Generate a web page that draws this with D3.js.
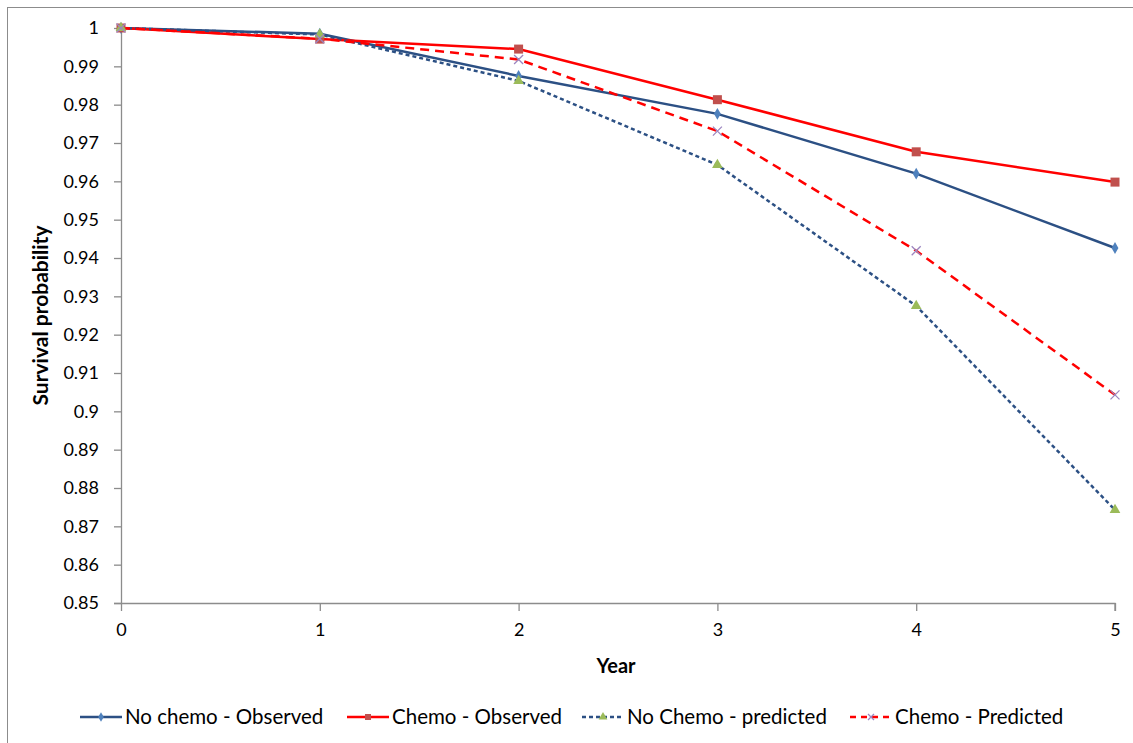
<!DOCTYPE html>
<html>
<head>
<meta charset="utf-8">
<script src="https://cdn.jsdelivr.net/npm/d3@7"></script>
<style>
  body { margin: 0; background: #fff; }
  text { font-family: Lato, "Open Sans", sans-serif; fill: #000; }
</style>
</head>
<body>
<div id="chart"></div>
<script>
'use strict';

// data
var years = [0, 1, 2, 3, 4, 5];
var noChemoObserved = [1.0, 0.9985, 0.9875, 0.9776, 0.9620, 0.9426];
var chemoObserved = [1.0, 0.9971, 0.9945, 0.9813, 0.9677, 0.9598];
var noChemoPredicted = [1.0, 0.9983, 0.9862, 0.9643, 0.9275, 0.8743];
var chemoPredicted = [1.0, 0.9972, 0.9918, 0.9731, 0.9419, 0.9043];
var yTicks = [0.85, 0.86, 0.87, 0.88, 0.89, 0.9, 0.91, 0.92, 0.93, 0.94, 0.95,
  0.96, 0.97, 0.98, 0.99, 1];
var seriesNames = ["No chemo - Observed", "Chemo - Observed",
  "No Chemo - predicted", "Chemo - Predicted"];

var W = 1133, H = 743;
var margin = {top: 28, right: 18, bottom: 140, left: 121};
var width = W - margin.left - margin.right,
  height = H - margin.top - margin.bottom;

var x = d3.scaleLinear().domain([0, 5]).range([0, width]);
var y = d3.scaleLinear().domain([0.85, 1]).range([height, 0]);

var svg = d3.select("#chart").append("svg")
  .attr("width", W)
  .attr("height", H);

// chart frame
svg.append("rect")
  .attr("x", 7.5).attr("y", 7.5)
  .attr("width", W).attr("height", H)
  .attr("fill", "none")
  .attr("stroke", "#8c8c8c")
  .attr("stroke-width", 1);

var g = svg.append("g")
  .attr("transform", "translate(" + margin.left + "," + margin.top + ")");

// axes
var yAxis = g.append("g")
  .call(d3.axisLeft(y).tickValues(yTicks).tickSize(7).tickPadding(15)
    .tickFormat(function(d) { return d3.format("")(+d.toFixed(2)); }));
var xAxis = g.append("g")
  .attr("transform", "translate(0," + height + ")")
  .call(d3.axisBottom(x).tickValues(years).tickSize(8).tickPadding(12)
    .tickFormat(d3.format("d")));

[xAxis, yAxis].forEach(function(ax) {
  ax.select(".domain").attr("stroke", "#8c8c8c").attr("stroke-width", 1.3);
  ax.selectAll(".tick line").attr("stroke", "#8c8c8c").attr("stroke-width", 1.3);
  ax.selectAll(".tick text").style("font-size", "18px")
    .style("font-family", "Lato, 'Open Sans', sans-serif").attr("fill", "#000");
});
// extend x axis line to the left like the original
xAxis.select(".domain").attr("d", "M-7,0.5H" + width + "V8");
yAxis.select(".domain").attr("d", "M0.5," + height + "V0");

// axis titles
g.append("text")
  .attr("x", width / 2 - 2)
  .attr("y", height + 70)
  .attr("text-anchor", "middle")
  .style("font-size", "20px")
  .style("font-weight", "bold")
  .text("Year");

g.append("text")
  .attr("transform", "translate(" + (-73) + "," + (height / 2) + ") rotate(-90)")
  .attr("text-anchor", "middle")
  .style("font-size", "21px")
  .style("font-weight", "bold")
  .text("Survival probability");

var series = [
  {name: seriesNames[0], values: noChemoObserved, line: "#2c5084", dash: null, width: 2.5, marker: "diamond", mcolor: "#4f81bd"},
  {name: seriesNames[1], values: chemoObserved, line: "#ff0000", dash: null, width: 2.5, marker: "square", mcolor: "#c0504d"},
  {name: seriesNames[2], values: noChemoPredicted, line: "#2c5084", dash: "4,3", width: 2.5, marker: "triangle", mcolor: "#9bbb59"},
  {name: seriesNames[3], values: chemoPredicted, line: "#ff0000", dash: "9,6", width: 2.5, marker: "cross", mcolor: "#9c86c0"}
];

var line = d3.line()
  .x(function(d, i) { return x(years[i]); })
  .y(function(d) { return y(d); });

function drawMarker(sel, type, color, size) {
  if (type === "diamond") {
    sel.append("path").attr("d", d3.symbol(d3.symbolDiamond, size * 4.5)())
      .attr("fill", color);
  } else if (type === "square") {
    sel.append("rect").attr("x", -size / 2).attr("y", -size / 2)
      .attr("width", size).attr("height", size).attr("fill", color);
  } else if (type === "triangle") {
    sel.append("path").attr("d", d3.symbol(d3.symbolTriangle, size * 5.5)())
      .attr("fill", color);
  } else {
    var h = size / 2;
    sel.append("path").attr("d", "M" + -h + "," + -h + "L" + h + "," + h +
      "M" + -h + "," + h + "L" + h + "," + -h)
      .attr("stroke", color).attr("stroke-width", 1.3).attr("fill", "none");
  }
}

series.forEach(function(s) {
  g.append("path")
    .datum(s.values)
    .attr("fill", "none")
    .attr("stroke", s.line)
    .attr("stroke-width", s.width)
    .attr("stroke-dasharray", s.dash)
    .attr("d", line);
});

series.forEach(function(s) {
  s.values.forEach(function(v, i) {
    var m = g.append("g")
      .attr("transform", "translate(" + x(years[i]) + "," + y(v) + ")");
    drawMarker(m, s.marker, s.mcolor, 9);
  });
});

// legend
var legendX = [80, 347, 582, 850];
var legend = svg.append("g").attr("transform", "translate(0,717)");
series.forEach(function(s, i) {
  var lg = legend.append("g").attr("transform", "translate(" + legendX[i] + ",0)");
  lg.append("line")
    .attr("x1", 0).attr("x2", 42)
    .attr("stroke", s.line)
    .attr("stroke-width", s.width)
    .attr("stroke-dasharray", s.dash === "9,6" ? "6,5" : s.dash);
  var m = lg.append("g").attr("transform", "translate(21,0)");
  drawMarker(m, s.marker, s.mcolor, 6);
  lg.append("text")
    .attr("x", 45)
    .attr("dy", "0.35em")
    .style("font-size", "20.5px")
    .text(s.name);
});
</script>
</body>
</html>
